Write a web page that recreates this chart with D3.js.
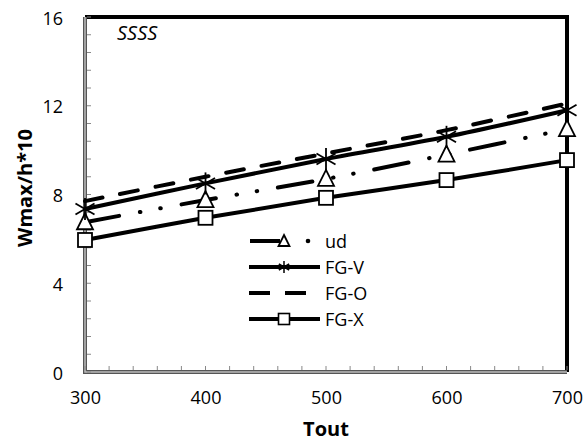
<!DOCTYPE html>
<html><head><meta charset="utf-8">
<script src="https://cdn.jsdelivr.net/npm/d3@7"></script>
<style>body{margin:0;background:#fff}svg{display:block}text{font-family:"Open Sans","Noto Sans",sans-serif}</style>
</head><body>
<svg id="c" width="584" height="443"></svg>
<script>
const xValues = [300, 400, 500, 600, 700];
const udValues = [6.75, 7.75, 8.7, 9.8, 10.95];
const fgvValues = [7.35, 8.5, 9.6, 10.6, 11.8];
const fgoValues = [7.7, 8.8, 9.85, 10.9, 12.1];
const fgxValues = [5.95, 6.95, 7.85, 8.65, 9.55];
const xTicks = [300, 400, 500, 600, 700];
const yTicks = [0, 4, 8, 12, 16];
const seriesNames = ["ud", "FG-V", "FG-O", "FG-X"];

const svg = d3.select("#c");
const L = 85, R = 567, T = 17, B = 372;
const x = d3.scaleLinear().domain([300, 700]).range([L, R]);
const y = d3.scaleLinear().domain([0, 16]).range([B, T]);

svg.append("path").attr("d", `M${L},${T}H${R}V${B}`).attr("fill","none").attr("stroke","#000").attr("stroke-width",4);
function grayAxisPath(){ return `M${L},${T}V${B}H${R}`; }
svg.append("path").attr("d", grayAxisPath()).attr("fill","none").attr("stroke","#555").attr("stroke-width",4);
svg.append("path").attr("d", grayAxisPath()).attr("fill","none").attr("stroke","#bbb").attr("stroke-width",1.5);

const yMinor = d3.range(0, 16.01, 0.8);
svg.append("g").selectAll("line").data(yMinor).join("line")
  .attr("x1", L+2).attr("x2", L+6).attr("y1", d=>y(d)).attr("y2", d=>y(d))
  .attr("stroke","#888").attr("stroke-width",1);
const xMinor = d3.range(300, 700.1, 20);
svg.append("g").selectAll("line").data(xMinor).join("line")
  .attr("y1", B-2).attr("y2", B-6).attr("x1", d=>x(d)).attr("x2", d=>x(d))
  .attr("stroke","#888").attr("stroke-width",1);

const yAxis = svg.append("g").attr("transform",`translate(${L},0)`)
  .call(d3.axisLeft(y).tickValues(yTicks).tickSize(0).tickPadding(22));
yAxis.select(".domain").remove();
yAxis.attr("font-family",null).attr("font-size",null);
yAxis.selectAll("text").attr("font-size",18).attr("fill","#000").attr("dy","0.4em");
const xAxis = svg.append("g").attr("transform",`translate(0,${B})`)
  .call(d3.axisBottom(x).tickValues(xTicks).tickSize(0).tickPadding(19));
xAxis.select(".domain").remove();
xAxis.attr("font-family",null).attr("font-size",null);
xAxis.selectAll("text").attr("font-size",18).attr("fill","#000");

svg.append("text").attr("x", 326).attr("y", 436).attr("text-anchor","middle")
  .attr("font-size",20).attr("font-weight","bold").text("Tout");
svg.append("text").attr("transform","translate(32,188) rotate(-90)").attr("text-anchor","middle")
  .attr("font-size",20).attr("font-weight","bold").text("Wmax/h*10");
svg.append("text").attr("x",117).attr("y",40).attr("font-size",20).attr("font-style","italic").text("SSSS");

const styles = {
  "ud":   {vals: udValues, dash: "35,21,0.5,20,0.5,21", marker: "tri"},
  "FG-V": {vals: fgvValues, dash: null, marker: "star"},
  "FG-O": {vals: fgoValues, dash: "18,18", marker: null},
  "FG-X": {vals: fgxValues, dash: null, marker: "sq"}
};

const line = d3.line().x(d=>x(d[0])).y(d=>y(d[1])).curve(d3.curveCatmullRom.alpha(0.5));

function drawMarker(g, type, cx, cy){
  if(type==="tri"){
    g.append("path").attr("d",`M${cx},${cy-9}L${cx+8},${cy+7}L${cx-8},${cy+7}Z`)
     .attr("fill","#fff").attr("stroke","#000").attr("stroke-width",1.8);
  } else if(type==="sq"){
    g.append("rect").attr("x",cx-7).attr("y",cy-7).attr("width",14).attr("height",14)
     .attr("fill","#fff").attr("stroke","#000").attr("stroke-width",1.8);
  } else if(type==="star"){
    const r=11;
    for(const a of [0,60,120]){
      const rad=(a+90)*Math.PI/180;
      g.append("line").attr("x1",cx+r*Math.cos(rad)).attr("y1",cy+r*Math.sin(rad))
       .attr("x2",cx-r*Math.cos(rad)).attr("y2",cy-r*Math.sin(rad))
       .attr("stroke","#000").attr("stroke-width",1.8);
    }
  }
}

for(const name of ["FG-X","ud","FG-O","FG-V"]){
  const s = styles[name];
  const pts = xValues.map((xv,i)=>[xv, s.vals[i]]);
  const p = svg.append("path").datum(pts).attr("d",line).attr("fill","none")
    .attr("stroke","#000").attr("stroke-width",4);
  if(s.dash) p.attr("stroke-dasharray", s.dash).attr("stroke-linecap","round");
  if(s.marker){
    const g = svg.append("g");
    pts.forEach(d=>drawMarker(g, s.marker, x(d[0]), y(d[1])));
  }
}

const legY = [241, 267, 293, 319];
const lg = svg.append("g");
seriesNames.forEach((name,i)=>{
  const s = styles[name];
  const yy = legY[i];
  if(name==="ud"){
    lg.append("line").attr("x1",250).attr("x2",280).attr("y1",yy).attr("y2",yy)
      .attr("stroke","#000").attr("stroke-width",4);
    lg.append("circle").attr("cx",308).attr("cy",yy).attr("r",2.3).attr("fill","#000");
  } else {
    const l = lg.append("line").attr("x1",249).attr("x2",320).attr("y1",yy).attr("y2",yy)
      .attr("stroke","#000").attr("stroke-width",4);
    if(s.dash) l.attr("stroke-dasharray","21,15");
  }
  if(s.marker){
    if(s.marker==="tri"){
      lg.append("path").attr("d",`M${284},${yy-6}L${289.5},${yy+5}L${278.5},${yy+5}Z`)
        .attr("fill","#fff").attr("stroke","#000").attr("stroke-width",1.8);
    } else if(s.marker==="sq"){
      lg.append("rect").attr("x",278.5).attr("y",yy-5.5).attr("width",11).attr("height",11)
        .attr("fill","#fff").attr("stroke","#000").attr("stroke-width",1.6);
    } else {
      const r=6;
      for(const a of [0,60,120]){
        const rad=(a+90)*Math.PI/180;
        lg.append("line").attr("x1",284+r*Math.cos(rad)).attr("y1",yy+r*Math.sin(rad))
          .attr("x2",284-r*Math.cos(rad)).attr("y2",yy-r*Math.sin(rad))
          .attr("stroke","#000").attr("stroke-width",1.5);
      }
    }
  }
  lg.append("text").attr("x",325).attr("y",yy+6.5).attr("font-size",18).text(name);
});
</script>
</body></html>
